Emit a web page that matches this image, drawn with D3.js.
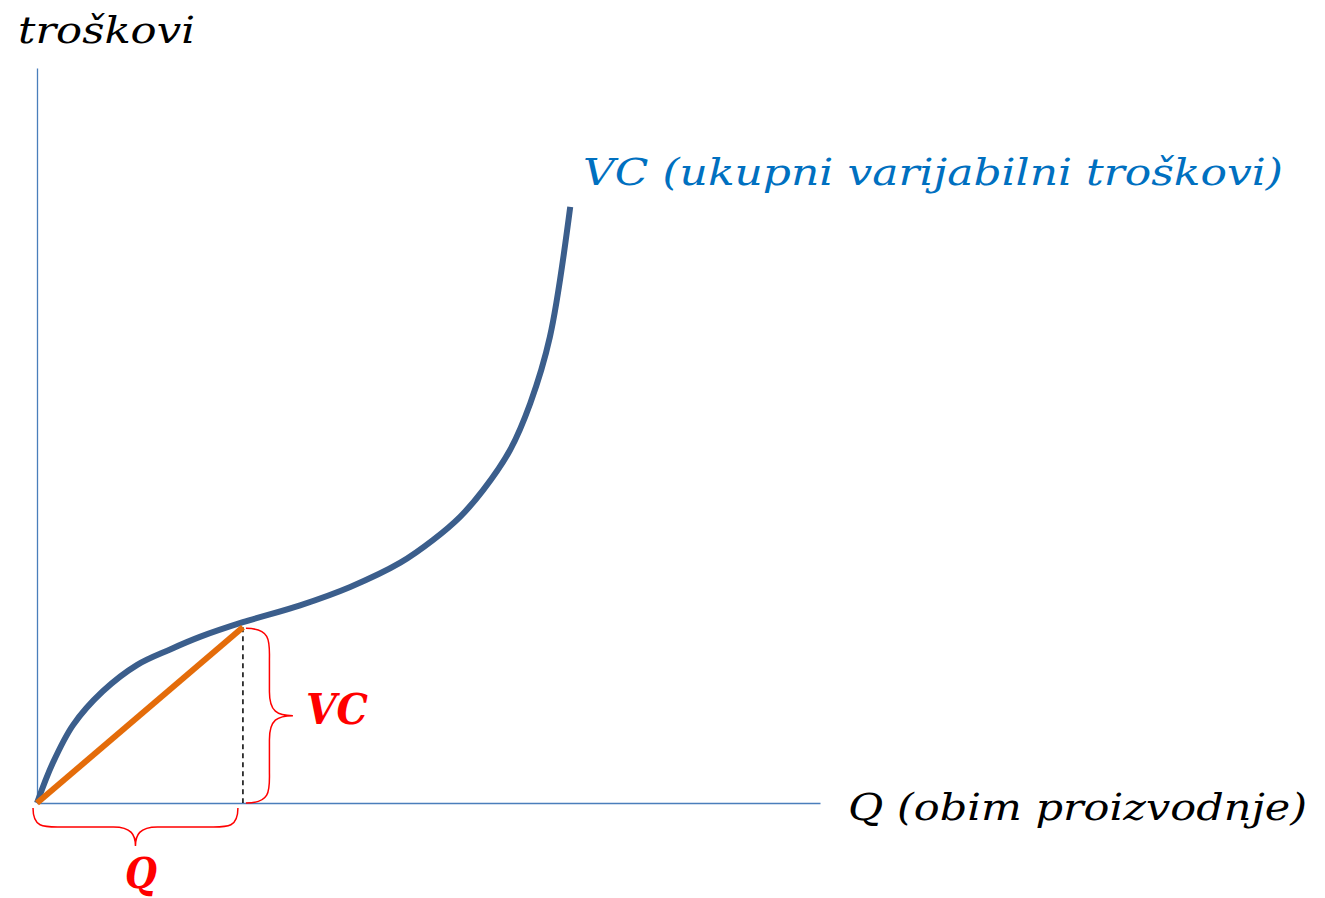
<!DOCTYPE html>
<html>
<head>
<meta charset="utf-8">
<script src="https://cdn.jsdelivr.net/npm/d3@7"></script>
<style>
  body { margin: 0; background: #fff; }
  text { font-family: "DejaVu Serif", serif; font-style: italic; }
</style>
</head>
<body>
<svg id="chart" width="1325" height="898"></svg>
<script>
// output quantity (Q) and total variable cost (VC)
const qValues = [0, 2.0, 4.6, 8.4, 12.8, 17.0, 20.8, 26.3, 33.6, 40.0, 46.4, 50.6, 54.0, 57.0, 60.4, 63.0, 65.5, 68.1];
const vcValues = [0, 5.4, 10.6, 15.2, 18.8, 20.9, 22.6, 24.6, 26.9, 29.4, 32.7, 35.8, 38.9, 42.6, 48.0, 54.4, 63.4, 81.1];
const markedQ = 26.3;
const markedVC = 23.9;

const labels = {
  y: "troškovi",
  x: "Q (obim proizvodnje)",
  curve: "VC (ukupni varijabilni troškovi)",
  vc: "VC",
  q: "Q"
};

const svg = d3.select("#chart");

const x = d3.scaleLinear().domain([0, 100]).range([37, 820]);
const y = d3.scaleLinear().domain([0, 100]).range([803, 68]);

const axisColor = "#4a7ebb";

// axes without ticks, just the lines
svg.append("g")
  .attr("transform", `translate(0, ${y(0)})`)
  .call(d3.axisBottom(x).tickValues([]).tickSizeOuter(0))
  .select(".domain").attr("stroke", axisColor).attr("stroke-width", 1.3);

svg.append("g")
  .attr("transform", `translate(${x(0)}, 0)`)
  .call(d3.axisLeft(y).tickValues([]).tickSizeOuter(0))
  .select(".domain").attr("stroke", axisColor).attr("stroke-width", 1.3);

// dashed drop line
svg.append("line")
  .attr("x1", x(markedQ)).attr("x2", x(markedQ))
  .attr("y1", y(markedVC)).attr("y2", y(0))
  .attr("stroke", "#000")
  .attr("stroke-width", 1.5)
  .attr("stroke-dasharray", "5,4");

// VC curve
const pts = qValues.map((q, i) => [q, vcValues[i]]);
const line = d3.line()
  .x(d => x(d[0]))
  .y(d => y(d[1]))
  .curve(d3.curveCatmullRom.alpha(0.5));

svg.append("path")
  .datum(pts)
  .attr("d", line)
  .attr("fill", "none")
  .attr("stroke", "#3b5e8c")
  .attr("stroke-width", 6);

// ray from origin
svg.append("line")
  .attr("x1", x(0)).attr("y1", y(0))
  .attr("x2", x(markedQ)).attr("y2", y(markedVC))
  .attr("stroke", "#e46c0a")
  .attr("stroke-width", 6);

// curly braces
function vBrace(x0, ya, yb, w) {
  const m = (ya + yb) / 2, r = w / 2;
  const p = d3.path();
  p.moveTo(x0, ya);
  p.bezierCurveTo(x0 + r * 1.1, ya, x0 + r, ya + 14, x0 + r, ya + 32);
  p.lineTo(x0 + r, m - 24);
  p.bezierCurveTo(x0 + r, m - 4, x0 + r + 8, m, x0 + w, m);
  p.bezierCurveTo(x0 + r + 8, m, x0 + r, m + 4, x0 + r, m + 24);
  p.lineTo(x0 + r, yb - 32);
  p.bezierCurveTo(x0 + r, yb - 14, x0 + r * 1.1, yb, x0, yb);
  return p.toString();
}
function hBrace(xa, xb, y0, h) {
  const m = (xa + xb) / 2, r = h / 2;
  const p = d3.path();
  p.moveTo(xa, y0);
  p.bezierCurveTo(xa, y0 + r * 1.1, xa + 12, y0 + r, xa + 30, y0 + r);
  p.lineTo(m - 22, y0 + r);
  p.bezierCurveTo(m - 4, y0 + r, m, y0 + r + 8, m, y0 + h);
  p.bezierCurveTo(m, y0 + r + 8, m + 4, y0 + r, m + 22, y0 + r);
  p.lineTo(xb - 30, y0 + r);
  p.bezierCurveTo(xb - 12, y0 + r, xb, y0 + r * 1.1, xb, y0);
  return p.toString();
}

svg.append("path")
  .attr("d", vBrace(x(markedQ) + 3, y(markedVC) + 1, y(0), 47))
  .attr("fill", "none").attr("stroke", "#ff0000").attr("stroke-width", 1.5);

svg.append("path")
  .attr("d", hBrace(x(0) - 4, x(markedQ) - 5, y(0) + 5, 38))
  .attr("fill", "none").attr("stroke", "#ff0000").attr("stroke-width", 1.5);

// texts
function label(t, px, py, size, color, len, weight) {
  svg.append("text")
    .attr("x", px).attr("y", py)
    .attr("font-size", size)
    .attr("fill", color)
    .attr("font-weight", weight || "normal")
    .attr("textLength", len)
    .attr("lengthAdjust", "spacingAndGlyphs")
    .text(t);
}

label(labels.y, 18, 43, 38, "#000", 177);
label(labels.curve, 583, 185, 38, "#0070c0", 700);
label(labels.x, 848, 820, 38, "#000", 459);
label(labels.vc, 306, 724, 42, "#ff0000", 62, "bold");
label(labels.q, 125, 888, 42, "#ff0000", 32, "bold");
</script>
</body>
</html>
